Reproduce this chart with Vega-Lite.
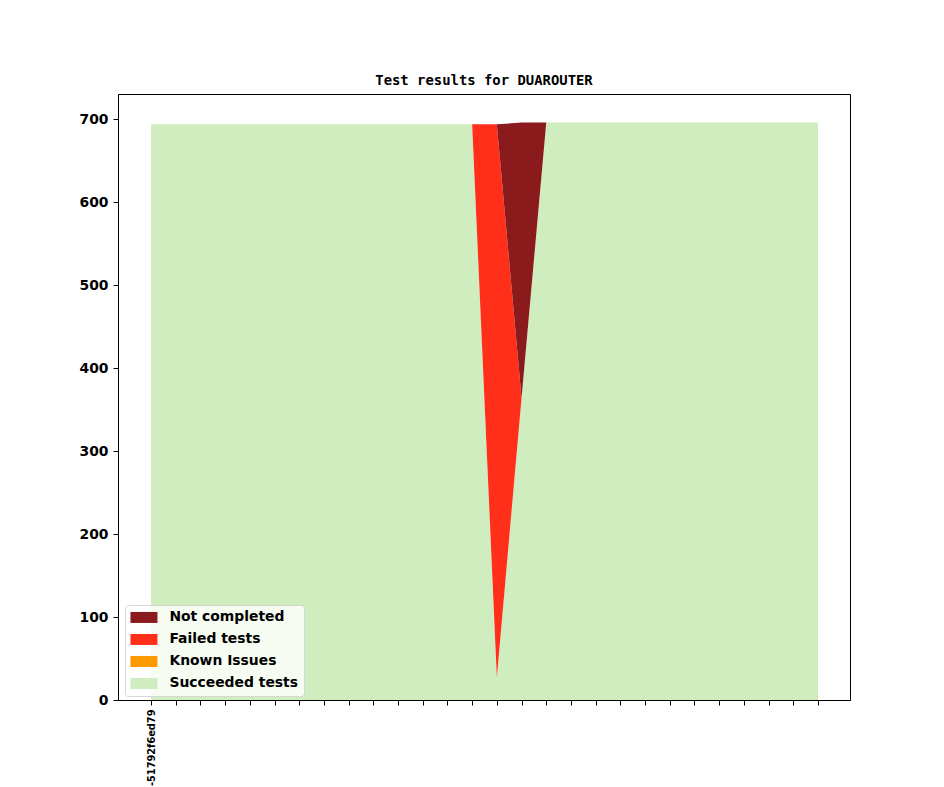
{
  "$schema": "https://vega.github.io/schema/vega-lite/v6.json",
  "autosize": {"type": "none"},
  "width": 732,
  "height": 606,
  "padding": {"left": 118, "top": 94, "right": 94, "bottom": 87},
  "background": "white",
  "title": {"text": "Test results for DUAROUTER", "font": "DejaVu Sans Mono", "fontSize": 13.9, "fontWeight": "bold", "color": "black", "offset": 6, "anchor": "middle"},
  "config": {
    "view": {"stroke": "black", "strokeWidth": 1},
    "axis": {"domainColor": "black", "tickColor": "black", "labelColor": "black", "labelFont": "DejaVu Sans", "labelFontWeight": "bold", "grid": false, "tickSize": 5, "domainWidth": 1, "tickWidth": 1}
  },
  "data": {"values": [
    {"i":0,"s":"Succeeded tests","k":0,"v":694},{"i":0,"s":"Known Issues","k":1,"v":0},{"i":0,"s":"Failed tests","k":2,"v":0},{"i":0,"s":"Not completed","k":3,"v":0},
    {"i":1,"s":"Succeeded tests","k":0,"v":694},{"i":1,"s":"Known Issues","k":1,"v":0},{"i":1,"s":"Failed tests","k":2,"v":0},{"i":1,"s":"Not completed","k":3,"v":0},
    {"i":2,"s":"Succeeded tests","k":0,"v":694},{"i":2,"s":"Known Issues","k":1,"v":0},{"i":2,"s":"Failed tests","k":2,"v":0},{"i":2,"s":"Not completed","k":3,"v":0},
    {"i":3,"s":"Succeeded tests","k":0,"v":694},{"i":3,"s":"Known Issues","k":1,"v":0},{"i":3,"s":"Failed tests","k":2,"v":0},{"i":3,"s":"Not completed","k":3,"v":0},
    {"i":4,"s":"Succeeded tests","k":0,"v":694},{"i":4,"s":"Known Issues","k":1,"v":0},{"i":4,"s":"Failed tests","k":2,"v":0},{"i":4,"s":"Not completed","k":3,"v":0},
    {"i":5,"s":"Succeeded tests","k":0,"v":694},{"i":5,"s":"Known Issues","k":1,"v":0},{"i":5,"s":"Failed tests","k":2,"v":0},{"i":5,"s":"Not completed","k":3,"v":0},
    {"i":6,"s":"Succeeded tests","k":0,"v":694},{"i":6,"s":"Known Issues","k":1,"v":0},{"i":6,"s":"Failed tests","k":2,"v":0},{"i":6,"s":"Not completed","k":3,"v":0},
    {"i":7,"s":"Succeeded tests","k":0,"v":694},{"i":7,"s":"Known Issues","k":1,"v":0},{"i":7,"s":"Failed tests","k":2,"v":0},{"i":7,"s":"Not completed","k":3,"v":0},
    {"i":8,"s":"Succeeded tests","k":0,"v":694},{"i":8,"s":"Known Issues","k":1,"v":0},{"i":8,"s":"Failed tests","k":2,"v":0},{"i":8,"s":"Not completed","k":3,"v":0},
    {"i":9,"s":"Succeeded tests","k":0,"v":694},{"i":9,"s":"Known Issues","k":1,"v":0},{"i":9,"s":"Failed tests","k":2,"v":0},{"i":9,"s":"Not completed","k":3,"v":0},
    {"i":10,"s":"Succeeded tests","k":0,"v":694},{"i":10,"s":"Known Issues","k":1,"v":0},{"i":10,"s":"Failed tests","k":2,"v":0},{"i":10,"s":"Not completed","k":3,"v":0},
    {"i":11,"s":"Succeeded tests","k":0,"v":694},{"i":11,"s":"Known Issues","k":1,"v":0},{"i":11,"s":"Failed tests","k":2,"v":0},{"i":11,"s":"Not completed","k":3,"v":0},
    {"i":12,"s":"Succeeded tests","k":0,"v":694},{"i":12,"s":"Known Issues","k":1,"v":0},{"i":12,"s":"Failed tests","k":2,"v":0},{"i":12,"s":"Not completed","k":3,"v":0},
    {"i":13,"s":"Succeeded tests","k":0,"v":694},{"i":13,"s":"Known Issues","k":1,"v":0},{"i":13,"s":"Failed tests","k":2,"v":0},{"i":13,"s":"Not completed","k":3,"v":0},
    {"i":14,"s":"Succeeded tests","k":0,"v":27},{"i":14,"s":"Known Issues","k":1,"v":0},{"i":14,"s":"Failed tests","k":2,"v":667},{"i":14,"s":"Not completed","k":3,"v":0},
    {"i":15,"s":"Succeeded tests","k":0,"v":364},{"i":15,"s":"Known Issues","k":1,"v":0},{"i":15,"s":"Failed tests","k":2,"v":0},{"i":15,"s":"Not completed","k":3,"v":332},
    {"i":16,"s":"Succeeded tests","k":0,"v":696},{"i":16,"s":"Known Issues","k":1,"v":0},{"i":16,"s":"Failed tests","k":2,"v":0},{"i":16,"s":"Not completed","k":3,"v":0},
    {"i":17,"s":"Succeeded tests","k":0,"v":696},{"i":17,"s":"Known Issues","k":1,"v":0},{"i":17,"s":"Failed tests","k":2,"v":0},{"i":17,"s":"Not completed","k":3,"v":0},
    {"i":18,"s":"Succeeded tests","k":0,"v":696},{"i":18,"s":"Known Issues","k":1,"v":0},{"i":18,"s":"Failed tests","k":2,"v":0},{"i":18,"s":"Not completed","k":3,"v":0},
    {"i":19,"s":"Succeeded tests","k":0,"v":696},{"i":19,"s":"Known Issues","k":1,"v":0},{"i":19,"s":"Failed tests","k":2,"v":0},{"i":19,"s":"Not completed","k":3,"v":0},
    {"i":20,"s":"Succeeded tests","k":0,"v":696},{"i":20,"s":"Known Issues","k":1,"v":0},{"i":20,"s":"Failed tests","k":2,"v":0},{"i":20,"s":"Not completed","k":3,"v":0},
    {"i":21,"s":"Succeeded tests","k":0,"v":696},{"i":21,"s":"Known Issues","k":1,"v":0},{"i":21,"s":"Failed tests","k":2,"v":0},{"i":21,"s":"Not completed","k":3,"v":0},
    {"i":22,"s":"Succeeded tests","k":0,"v":696},{"i":22,"s":"Known Issues","k":1,"v":0},{"i":22,"s":"Failed tests","k":2,"v":0},{"i":22,"s":"Not completed","k":3,"v":0},
    {"i":23,"s":"Succeeded tests","k":0,"v":696},{"i":23,"s":"Known Issues","k":1,"v":0},{"i":23,"s":"Failed tests","k":2,"v":0},{"i":23,"s":"Not completed","k":3,"v":0},
    {"i":24,"s":"Succeeded tests","k":0,"v":696},{"i":24,"s":"Known Issues","k":1,"v":0},{"i":24,"s":"Failed tests","k":2,"v":0},{"i":24,"s":"Not completed","k":3,"v":0},
    {"i":25,"s":"Succeeded tests","k":0,"v":696},{"i":25,"s":"Known Issues","k":1,"v":0},{"i":25,"s":"Failed tests","k":2,"v":0},{"i":25,"s":"Not completed","k":3,"v":0},
    {"i":26,"s":"Succeeded tests","k":0,"v":696},{"i":26,"s":"Known Issues","k":1,"v":0},{"i":26,"s":"Failed tests","k":2,"v":0},{"i":26,"s":"Not completed","k":3,"v":0},
    {"i":27,"s":"Succeeded tests","k":0,"v":696},{"i":27,"s":"Known Issues","k":1,"v":0},{"i":27,"s":"Failed tests","k":2,"v":0},{"i":27,"s":"Not completed","k":3,"v":0}
  ]},
  "mark": {"type": "area", "opacity": 1, "interpolate": "linear"},
  "encoding": {
    "x": {"field": "i", "type": "quantitative", "scale": {"domain": [-1.336, 28.296], "nice": false, "zero": false},
      "axis": {"title": null, "values": [0,1,2,3,4,5,6,7,8,9,10,11,12,13,14,15,16,17,18,19,20,21,22,23,24,25,26,27],
        "labelExpr": "datum.value == 0 ? '-51792f6ed79' : ''", "labelAngle": -90, "labelAlign": "right", "labelBaseline": "middle", "labelFontSize": 9.8, "labelPadding": 4, "labelFlush": false, "labelOverlap": false}},
    "y": {"field": "v", "type": "quantitative", "stack": "zero", "scale": {"domain": [0, 730.5], "nice": false},
      "axis": {"title": null, "values": [0,100,200,300,400,500,600,700], "labelFontSize": 13.9, "labelPadding": 5}},
    "order": {"field": "k", "type": "quantitative"},
    "color": {"field": "s", "type": "nominal",
      "scale": {"domain": ["Not completed", "Failed tests", "Known Issues", "Succeeded tests"], "range": ["#8a1a1c", "#ff2f1a", "#ff9900", "#cfedbf"]},
      "legend": {"title": null, "orient": "none", "legendX": 7, "legendY": 511,
        "fillColor": "rgba(255,255,255,0.8)", "strokeColor": "#d6d6d6", "cornerRadius": 3, "padding": 5.5,
        "symbolType": "M-1.4,-1.1H4V1.1H-1.4Z", "symbolSize": 100, "symbolStrokeWidth": 0, "symbolOpacity": 1,
        "labelFont": "DejaVu Sans", "labelFontWeight": "bold", "labelFontSize": 13.9, "labelColor": "black", "labelOffset": 25, "rowPadding": 7}}
  }
}
